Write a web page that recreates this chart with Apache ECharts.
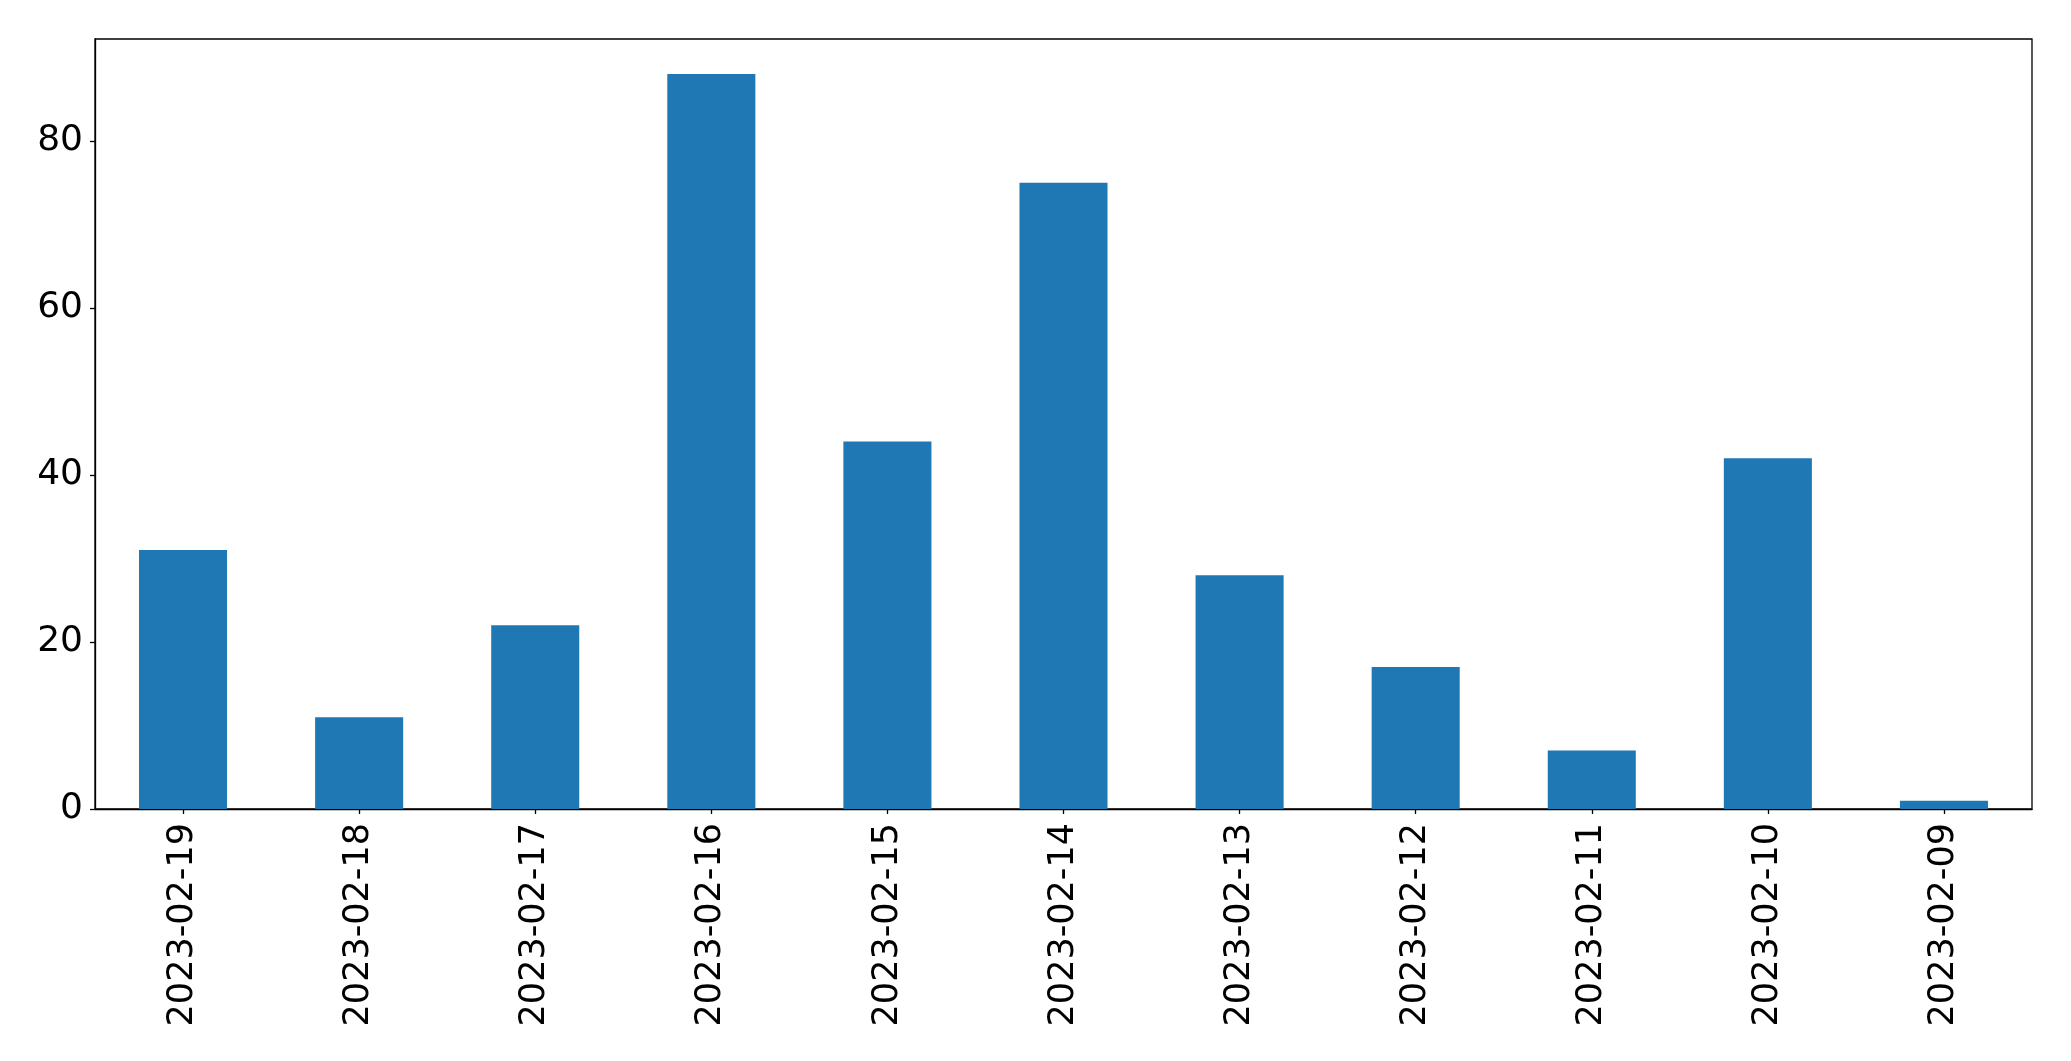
<!DOCTYPE html>
<html><head><meta charset="utf-8">
<script src="https://cdn.jsdelivr.net/npm/echarts@6/dist/echarts.min.js"></script>
<style>html,body{margin:0;padding:0;background:#fff}#c{width:2071px;height:1061px}</style>
</head><body><div id="c"></div>
<script>
const categories = ["2023-02-19","2023-02-18","2023-02-17","2023-02-16","2023-02-15","2023-02-14","2023-02-13","2023-02-12","2023-02-11","2023-02-10","2023-02-09"];
const values = [31, 11, 22, 88, 44, 75, 28, 17, 7, 42, 1];
const yTicks = [0, 20, 40, 60, 80];

const chart = echarts.init(document.getElementById('c'), null, {renderer: 'canvas'});
const font = 'DejaVu Sans';
chart.setOption({
  animation: false,
  backgroundColor: '#fff',
  grid: {left: 95, right: 39, top: 39, bottom: 252, show: true, borderColor: '#000', borderWidth: 1.3, backgroundColor: 'transparent'},
  xAxis: {
    type: 'category', data: categories, boundaryGap: true,
    axisLine: {show: true, lineStyle: {color: '#000', width: 1.3}},
    axisTick: {show: true, alignWithLabel: true, length: 5, lineStyle: {color: '#000', width: 1.3}},
    axisLabel: {rotate: 90, color: '#000', fontFamily: font, fontSize: 35, margin: 14, interval: 0}
  },
  yAxis: {
    type: 'value', min: 0, max: 92.2, interval: 20,
    splitLine: {show: false},
    axisLine: {show: true, lineStyle: {color: '#000', width: 1.3}},
    axisTick: {show: true, length: 5, customValues: yTicks, lineStyle: {color: '#000', width: 1.3}},
    axisLabel: {color: '#000', fontFamily: font, fontSize: 36, margin: 12, customValues: yTicks}
  },
  series: [{type: 'bar', data: values, barWidth: '50%', itemStyle: {color: '#1f77b4'}}]
});
</script></body></html>
